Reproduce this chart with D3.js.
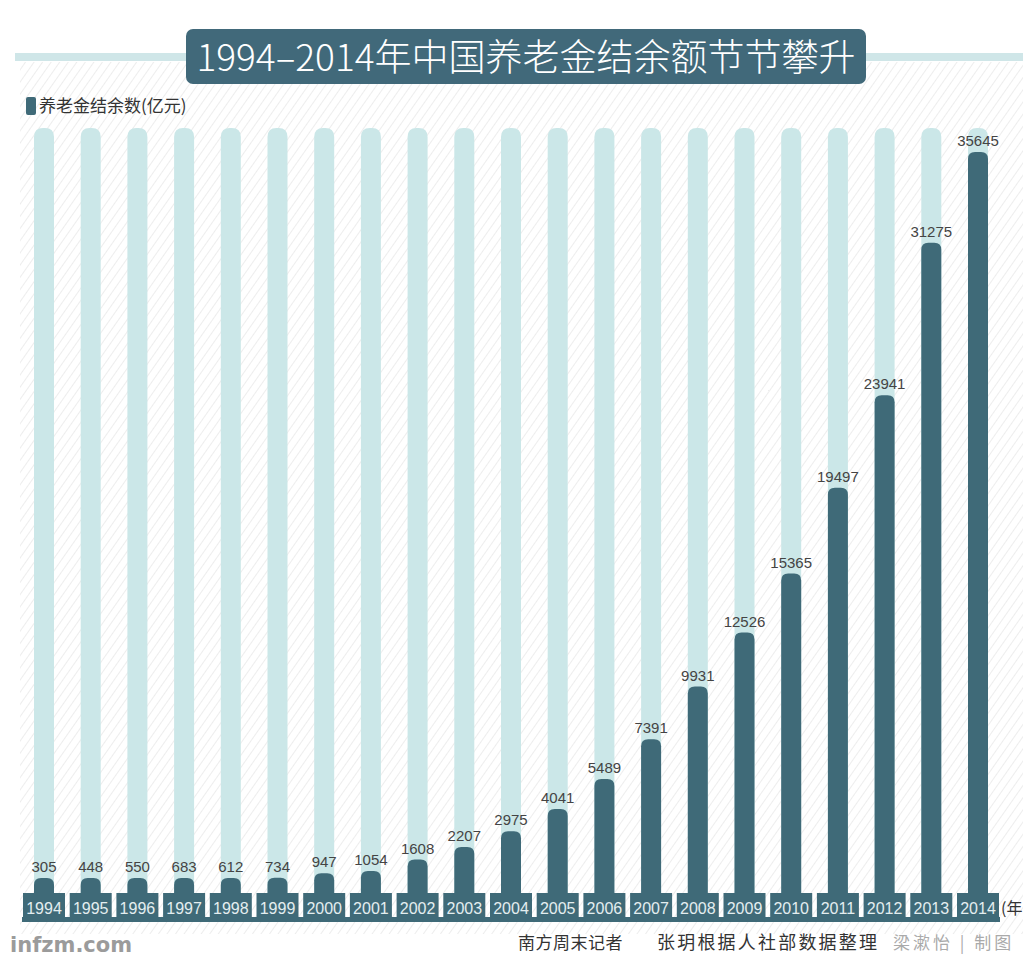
<!DOCTYPE html>
<html><head><meta charset="utf-8">
<script src="https://cdn.jsdelivr.net/npm/d3@7"></script>
<style>
html,body{margin:0;padding:0;background:#fff;}
svg{display:block;}
</style></head>
<body>
<script>
const titleText = "1994–2014年中国养老金结余额节节攀升";
const legendLabel = "养老金结余数(亿元)";
const unitLabel = "(年";
const years = ["1994","1995","1996","1997","1998","1999","2000","2001","2002","2003","2004","2005","2006","2007","2008","2009","2010","2011","2012","2013","2014"];
const values = [305,448,550,683,612,734,947,1054,1608,2207,2975,4041,5489,7391,9931,12526,15365,19497,23941,31275,35645];
const footerReporter = "南方周末记者";
const footerSource = "张玥根据人社部数据整理";
const footerCredit = "梁漱怡 | 制图";
const footerSite = "infzm.com";

const W = 1023, H = 957;
const dark = "#3f6a78", light = "#cbe7e8";
const svg = d3.select("body").append("svg").attr("width", W).attr("height", H);

const defs = svg.append("defs");
const pat = defs.append("pattern").attr("id","hatch").attr("patternUnits","userSpaceOnUse")
  .attr("width",7).attr("height",7).attr("patternTransform","rotate(35)");
pat.append("line").attr("x1",0).attr("y1",0).attr("x2",0).attr("y2",7)
  .attr("stroke","#e3e3e3").attr("stroke-width",1.3);

// hatched background
svg.append("rect").attr("x",20).attr("y",62).attr("width",W-20).attr("height",872).attr("fill","url(#hatch)");

// title band
svg.append("rect").attr("x",15).attr("y",53).attr("width",W-15).attr("height",8).attr("fill","#cfe6e8");
svg.append("rect").attr("x",186).attr("y",29).attr("width",680).attr("height",55).attr("rx",7).attr("fill","#41697a");
svg.append("text").attr("x",526).attr("y",71).attr("text-anchor","middle")
  .attr("font-family","'Noto Sans CJK SC', 'Noto Sans', sans-serif").attr("font-weight",300)
  .attr("font-size",37).attr("fill","#fff").text(titleText);

// legend
svg.append("rect").attr("x",26).attr("y",97).attr("width",10).attr("height",18).attr("rx",2).attr("fill",dark);
svg.append("text").attr("x",39).attr("y",112).attr("font-family","'Noto Sans CJK SC', sans-serif")
  .attr("font-size",17).attr("fill","#333").text(legendLabel);

// scales
const x = d3.scalePoint().domain(years).range([44, 978]);
const base = 893;
const y = d3.scaleLinear().domain([0, 35645]).range([base, 152]);
const bw = 20, boxW = 42, minStem = 15;
const topOf = v => Math.min(y(v), base - minStem);

const rounded = (cx, top, bottom, w, r) => {
  const l = cx - w/2, rr = cx + w/2;
  return `M${l},${bottom} L${l},${top + r} Q${l},${top} ${l + r},${top} L${rr - r},${top} Q${rr},${top} ${rr},${top + r} L${rr},${bottom} Z`;
};

const g = svg.append("g");
// light background bars
g.selectAll("path.bg").data(years).join("path").attr("class","bg")
  .attr("d", d => rounded(x(d), 128, base, bw, 9)).attr("fill", light);

// base line
svg.append("rect").attr("x",22).attr("y",917).attr("width",978).attr("height",5).attr("fill",dark);

// year boxes
g.selectAll("rect.box").data(years).join("rect").attr("class","box")
  .attr("x", d => x(d) - boxW/2).attr("y", base).attr("width", boxW).attr("height", 29).attr("fill", dark);

// dark value bars
g.selectAll("path.val").data(values).join("path").attr("class","val")
  .attr("d", (v,i) => rounded(x(years[i]), topOf(v), base + 1, bw, 7)).attr("fill", dark);

// value labels
g.selectAll("text.val").data(values).join("text").attr("class","val")
  .attr("x", (v,i) => x(years[i])).attr("y", v => topOf(v) - 6)
  .attr("text-anchor","middle").attr("font-family","'Liberation Sans', Arial, sans-serif")
  .attr("font-size",15).attr("fill","#444").text(v => v);

// year labels
g.selectAll("text.yr").data(years).join("text").attr("class","yr")
  .attr("x", d => x(d)).attr("y", base + 21).attr("text-anchor","middle")
  .attr("font-family","'Liberation Sans', Arial, sans-serif").attr("font-size",16)
  .attr("fill","#e4eef0").text(d => d);

svg.append("text").attr("x",1001).attr("y",914).attr("font-family","'Noto Sans CJK SC', sans-serif")
  .attr("font-size",16).attr("fill","#333").text(unitLabel);

// footer
svg.append("text").attr("x",10).attr("y",952).attr("font-family","'DejaVu Sans', sans-serif")
  .attr("font-weight","bold").attr("font-size",21).attr("fill","#9b9b9b").text(footerSite);
svg.append("text").attr("x",518).attr("y",949).attr("font-family","'Noto Sans CJK SC', sans-serif")
  .attr("font-size",17).attr("letter-spacing",0.5).attr("fill","#333").text(footerReporter);
svg.append("text").attr("x",657).attr("y",949).attr("font-family","'Noto Sans CJK SC', sans-serif")
  .attr("font-size",18).attr("letter-spacing",2.2).attr("fill","#333").text(footerSource);
svg.append("text").attr("x",893).attr("y",949).attr("font-family","'Noto Sans CJK SC', sans-serif")
  .attr("font-size",17).attr("letter-spacing",3).attr("fill","#aaa").style("white-space","pre").text(footerCredit);
</script>
</body></html>
